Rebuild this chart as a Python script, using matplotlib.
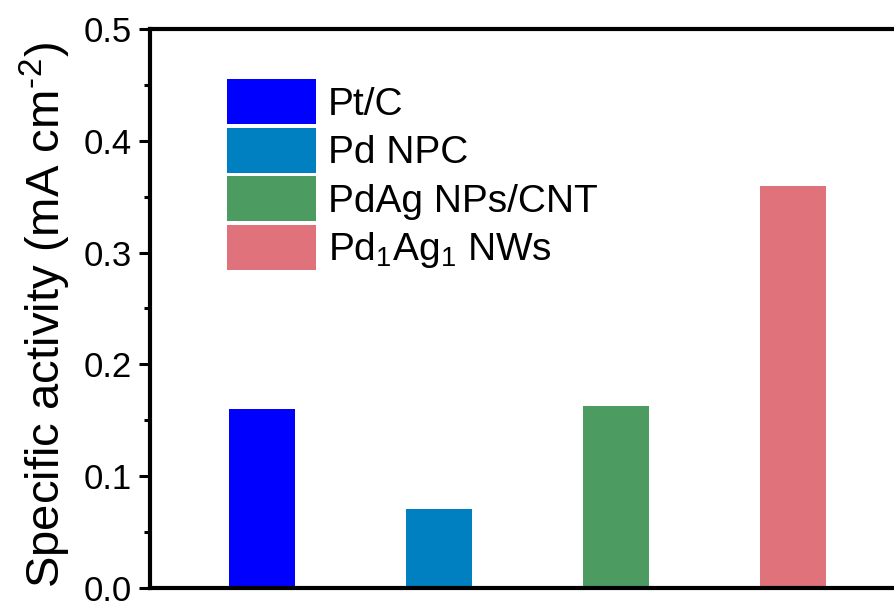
import matplotlib
matplotlib.use('Agg')
import matplotlib.pyplot as plt
from matplotlib.ticker import MultipleLocator

# 比活性数据
samples = ['Pt/C', 'Pd NPC', 'PdAg NPs/CNT', r'Pd$\mathregular{_1}$Ag$\mathregular{_1}$ NWs']
activity = [0.16, 0.071, 0.163, 0.36]
colors = ['#0000FF', '#0080C0', '#4C9C62', '#DF727A']
positions = [1, 2, 3, 4]

plt.rcParams['font.family'] = ['Liberation Sans', 'DejaVu Sans']
plt.rcParams['mathtext.fontset'] = 'custom'
plt.rcParams['mathtext.rm'] = 'Liberation Sans'

W, H = 894, 603
fig = plt.figure(figsize=(W / 100, H / 100), dpi=100)
# 坐标轴右侧超出画布，只露出左、上、下三边
ax = fig.add_axes([150 / W, 15 / H, (905 - 150) / W, (588 - 29) / H])

bars = ax.bar(positions, activity, width=0.375, color=colors, label=samples)

ax.set_xlim(0.367, 4.633)
ax.set_ylim(0, 0.5)
ax.set_xticks([])
ax.yaxis.set_major_locator(MultipleLocator(0.1))
ax.yaxis.set_minor_locator(MultipleLocator(0.05))
ax.tick_params(axis='y', which='major', direction='out', length=8, width=2.2,
               labelsize=25, pad=5)
ax.tick_params(axis='y', which='minor', direction='out', length=4, width=2.2)
for s in ax.spines.values():
    s.set_linewidth(3)

ax.set_ylabel('Specific activity (mA cm$\\mathregular{^{\u2010}}$$\\mathregular{^{2}}$)',
              fontsize=34, labelpad=8)
ax.yaxis.label.set_y(0.488)

ax.legend(bars, samples, loc='upper left', bbox_to_anchor=(227 / W, 1 - 79 / H),
          bbox_transform=fig.transFigure, frameon=False, fontsize=28,
          handlelength=2.29, handleheight=1.42, labelspacing=0.08,
          handletextpad=0.31, borderpad=0, borderaxespad=0)

fig.savefig('out.png', dpi=100)
